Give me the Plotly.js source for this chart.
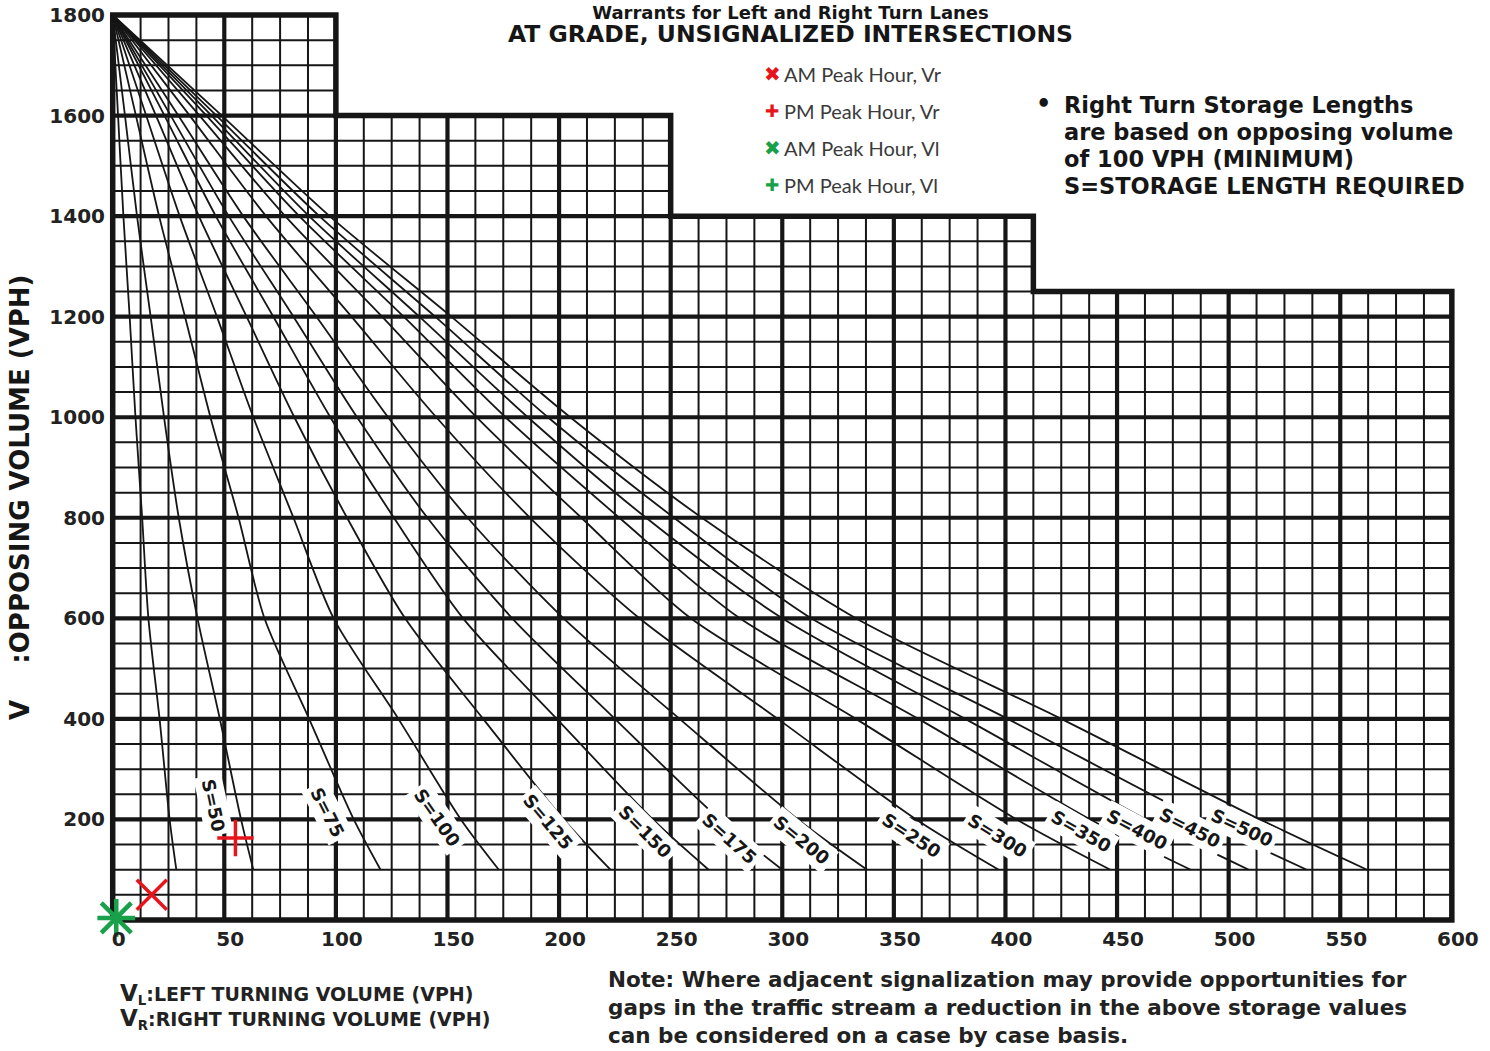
<!DOCTYPE html>
<html>
<head>
<meta charset="utf-8">
<script src="https://cdn.plot.ly/plotly-3.0.1.min.js"></script>
<style>html,body{margin:0;padding:0;background:#fff;}</style>
</head>
<body>
<div id="chart" style="width:1490px;height:1051px;"></div>
<script>
// ---------------- DATA ----------------
// Opposing volume levels at which each storage curve was read (VPH)
const curveY = [1800, 1600, 1400, 1200, 1000, 800, 600, 400, 200, 100];
// Turning volume (VPH) of each storage-length curve at those levels
const xS0   = [0, 2.4, 4.8, 7.6, 10.2, 13.2, 16, 21, 25.5, 28.5];
const xS50  = [0, 5.5, 10.9, 17, 23, 29.6, 38, 48, 57.5, 63];
const xS75  = [0, 10.4, 20.8, 32.4, 43.8, 56.4, 68, 88, 108, 120];
const xS100 = [0, 15, 30, 46.7, 63, 81, 99, 128, 156, 173];
const xS125 = [0, 19.4, 38.6, 60, 81.4, 105, 131, 166, 202, 223];
const xS150 = [0, 23.2, 46.2, 72, 97.5, 126, 157, 199, 242, 267];
const xS175 = [0, 26, 52, 81, 109.5, 141, 179, 225, 272, 300];
const xS200 = [0, 29.4, 58.5, 91.3, 123.4, 159, 202, 254, 307, 338];
const xS250 = [0, 34.5, 68.7, 107, 145, 187, 236, 298, 360, 397];
const xS300 = [0, 38.9, 77.3, 120.7, 163, 210, 259, 333, 405, 447];
const xS350 = [0, 42, 83.6, 130.4, 176, 227, 281, 361, 438, 483];
const xS400 = [0, 44.3, 88, 137.4, 186, 239, 300, 382, 463, 509];
const xS450 = [0, 46.5, 92.6, 144.5, 195, 251.5, 313, 401, 487, 535];
const xS500 = [0, 48.9, 97.2, 151.7, 205, 264, 333, 425, 514, 562];
const curveNames = ['', 'S=50', 'S=75', 'S=100', 'S=125', 'S=150', 'S=175', 'S=200',
                    'S=250', 'S=300', 'S=350', 'S=400', 'S=450', 'S=500'];
const curveXs = [xS0, xS50, xS75, xS100, xS125, xS150, xS175, xS200,
                 xS250, xS300, xS350, xS400, xS450, xS500];

// curve label anchor (data units) and angle
const labelX     = [null, 45.2, 96.3, 145.2, 194.9, 238.4, 276.4, 309, 358, 396.5, 434, 458.8, 482.5, 505.8];
const labelY     = [null, 228, 214, 203, 195, 175, 163, 159, 169, 169, 175, 179, 183, 183];
const labelAngle = [null, 78, 63, 55, 50, 45, 42, 39, 33, 32, 30, 28, 27, 25];

// chart boundary (stepped outline)
const stepEdgeX = [0, 100, 250, 412.5, 600];
const stepTop   = [1800, 1600, 1400, 1250];

// observed points
const pointNames = ['AM Peak Hour, Vr', 'PM Peak Hour, Vr', 'AM Peak Hour, Vl', 'PM Peak Hour, Vl'];
const pointX = [17.5, 55, 1.6, 1.6];
const pointY = [50, 163, 4, 4];

// tick labels
const xTickVals = [0, 50, 100, 150, 200, 250, 300, 350, 400, 450, 500, 550, 600];
const xTickText = ['0', '50', '100', '150', '200', '250', '300', '350', '400', '450', '500', '550', '600'];
const yTickVals = [200, 400, 600, 800, 1000, 1200, 1400, 1600, 1800];
const yTickText = ['200', '400', '600', '800', '1000', '1200', '1400', '1600', '1800'];

// text blocks
const titleText = 'Warrants for Left and Right Turn Lanes';
const subtitleText = 'AT GRADE, UNSIGNALIZED INTERSECTIONS';
const yTitleText = 'V\u00a0\u00a0\u00a0\u00a0:OPPOSING VOLUME (VPH)';
const noteRight = ['Right Turn Storage Lengths', 'are based on opposing volume',
                   'of 100 VPH (MINIMUM)', 'S=STORAGE LENGTH REQUIRED'];
const noteBottom = ['Note: Where adjacent signalization may provide opportunities for',
                    'gaps in the traffic stream a reduction in the above storage values',
                    'can be considered on a case by case basis.'];
const axisKey = [['L', ':LEFT TURNING VOLUME (VPH)'], ['R', ':RIGHT TURNING VOLUME (VPH)']];

// ---------------- BUILD ----------------
const INK = '#161616';
const RED = '#e8141b';
const GREEN = '#18a04a';
const BOLD = {family: 'DejaVu Sans', weight: 700};

function topAt(x) {
  for (let i = 0; i < stepTop.length; i++) {
    if (x <= stepEdgeX[i + 1] + 1e-9) return stepTop[i];
  }
  return 0;
}
function rightAt(y) {
  let r = 0;
  for (let i = 0; i < stepTop.length; i++) if (stepTop[i] >= y) r = stepEdgeX[i + 1];
  return r;
}
const minorStepX = 12.5, majorStepX = 50, minorStepY = 50, majorStepY = 200;
const xMax = stepEdgeX[stepEdgeX.length - 1];
const yMax = stepTop[0];

const mvx = [], mvy = [], Mvx = [], Mvy = [], mhx = [], mhy = [], Mhx = [], Mhy = [];
for (let x = minorStepX; x < xMax; x += minorStepX) {
  const major = Math.abs(x / majorStepX - Math.round(x / majorStepX)) < 1e-9;
  const ax = major ? Mvx : mvx, ay = major ? Mvy : mvy;
  ax.push(x, x, null); ay.push(0, topAt(x), null);
}
for (let y = minorStepY; y < yMax; y += minorStepY) {
  const major = y % majorStepY === 0;
  const ax = major ? Mhx : mhx, ay = major ? Mhy : mhy;
  ax.push(0, rightAt(y), null); ay.push(y, y, null);
}
const bx = [0], by = [0];
bx.push(0); by.push(stepTop[0]);
for (let i = 0; i < stepTop.length; i++) {
  bx.push(stepEdgeX[i + 1]); by.push(stepTop[i]);
  if (i + 1 < stepTop.length) { bx.push(stepEdgeX[i + 1]); by.push(stepTop[i + 1]); }
}
bx.push(xMax, 0); by.push(0, 0);

const traces = [];
function gridTrace(x, y, w) {
  return {x: x, y: y, type: 'scatter', mode: 'lines', hoverinfo: 'skip', showlegend: false,
          line: {color: INK, width: w}};
}
traces.push(gridTrace(mvx, mvy, 2));
traces.push(gridTrace(mhx, mhy, 2));
traces.push(gridTrace(Mvx, Mvy, 4.2));
traces.push(gridTrace(Mhx, Mhy, 4.2));
traces.push(gridTrace(bx, by, 5.5));

curveXs.forEach((cx, i) => {
  traces.push({x: cx, y: curveY, type: 'scatter', mode: 'lines', name: curveNames[i] || 'S',
               showlegend: false, line: {color: INK, width: 1.8, shape: 'spline', smoothing: 0.8}});
});

const pointSymbols = ['x-thin', 'cross-thin', 'x-thin', 'cross-thin'];
const pointColors = [RED, RED, GREEN, GREEN];
const pointSizes = [30, 26, 30, 27];
const pointWidths = [3.5, 3.5, 4.5, 4.5];
pointNames.forEach((n, i) => {
  traces.push({x: [pointX[i]], y: [pointY[i]], type: 'scatter', mode: 'markers', name: n,
               showlegend: false, cliponaxis: false,
               marker: {symbol: pointSymbols[i], size: pointSizes[i], color: pointColors[i],
                        line: {color: pointColors[i], width: pointWidths[i]}}});
});

// pixel -> paper helpers (for text outside the plot)
const L = 106, R = 27, T = 10, B = 126, W = 1490, H = 1051;
const pw = W - L - R, ph = H - T - B;
const px = v => (v - L) / pw;
const py = v => (H - B - v) / ph;
function textAt(xp, yp, text, font, extra) {
  return Object.assign({x: px(xp), y: py(yp), xref: 'paper', yref: 'paper', xanchor: 'left',
                        yanchor: 'middle', showarrow: false, text: text, font: font}, extra || {});
}

const annotations = [];
curveNames.forEach((n, i) => {
  if (!n) return;
  annotations.push({x: labelX[i], y: labelY[i], xref: 'x', yref: 'y', text: n, showarrow: false,
                    textangle: labelAngle[i], bgcolor: '#ffffff', borderpad: 3,
                    font: Object.assign({size: 18, color: INK}, BOLD)});
});

// title + subtitle (one block)
annotations.push(textAt(790, 0,
  titleText + '<br><span style="font-size:23.5px">' + subtitleText + '</span>',
  Object.assign({size: 18, color: INK}, BOLD), {xanchor: 'center', yanchor: 'top'}));

// legend (coloured glyph + label)
const legendGlyph = ['✖', '✚', '✖', '✚'];
const legendGlyphSize = [20, 17, 20, 17];
const legendYpx = [74, 111, 148, 185];
pointNames.forEach((n, i) => {
  annotations.push(textAt(772, legendYpx[i], legendGlyph[i],
    {family: 'DejaVu Sans', size: legendGlyphSize[i], color: pointColors[i]}, {xanchor: 'center'}));
  annotations.push(textAt(782, legendYpx[i], n, {family: 'Lato', size: 20, color: '#3a3a3a'}));
});

// right note
annotations.push(textAt(1034, 104, '•', Object.assign({size: 24, color: INK}, BOLD)));
noteRight.forEach((line, i) => {
  annotations.push(textAt(1062, 105 + 27 * i, line, Object.assign({size: 22.5, color: INK}, BOLD)));
});

// y axis title
annotations.push(textAt(20, 497, yTitleText,
  Object.assign({size: 26, color: INK}, BOLD), {xanchor: 'center', textangle: -90}));

// x axis key (bottom left)
annotations.push(textAt(118, 1006,
  axisKey.map(k => '<span style="font-size:23px">V</span><sub>' + k[0] + '</sub>' + k[1]).join('<br>'),
  Object.assign({size: 19, color: '#222'}, BOLD), {align: 'left'}));

// bottom note
annotations.push(textAt(606, 1050, noteBottom.join('<br>'),
  Object.assign({size: 21.5, color: '#222'}, BOLD), {yanchor: 'bottom', align: 'left'}));

const layout = {
  width: W, height: H, autosize: false,
  margin: {l: L, r: R, t: T, b: B, pad: 0},
  paper_bgcolor: '#ffffff', plot_bgcolor: '#ffffff',
  showlegend: false,
  xaxis: {range: [-3, 605], showgrid: false, zeroline: false, showline: false, ticks: '',
          tickvals: xTickVals, ticktext: xTickText, ticklabelshift: 6,
          tickfont: Object.assign({size: 20, color: '#222'}, BOLD)},
  yaxis: {range: [-10, 1810], showgrid: false, zeroline: false, showline: false, ticks: '',
          tickvals: yTickVals, ticktext: yTickText,
          tickfont: Object.assign({size: 20, color: '#222'}, BOLD)},
  annotations: annotations
};

Plotly.newPlot('chart', traces, layout, {displayModeBar: false, staticPlot: true});
</script>
</body>
</html>
